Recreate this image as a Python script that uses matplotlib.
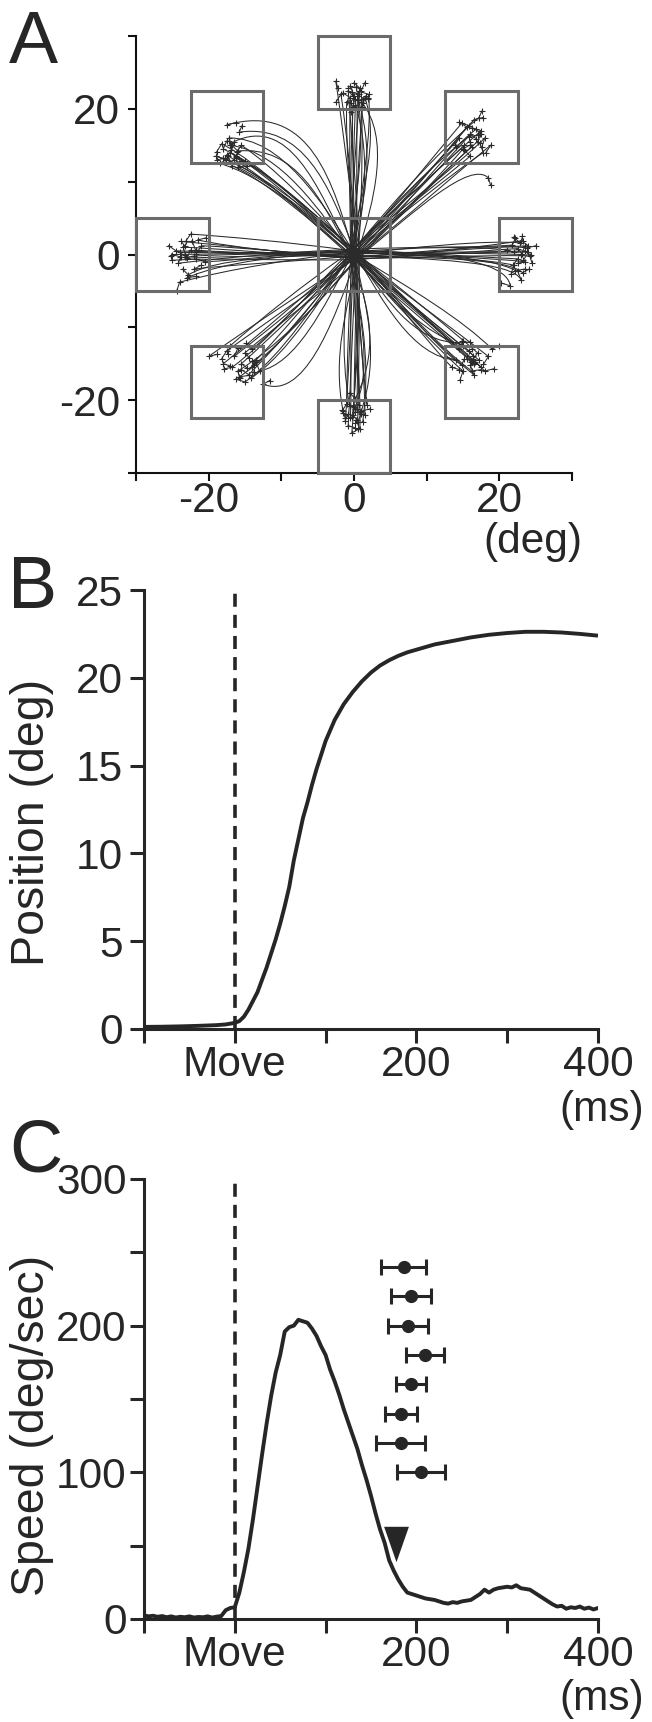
import matplotlib
matplotlib.use('Agg')
import matplotlib.pyplot as plt
from matplotlib.path import Path
from matplotlib.patches import PathPatch, Rectangle

plt.rcParams['font.family'] = ['Liberation Sans', 'DejaVu Sans']
plt.rcParams['lines.scale_dashes'] = False

# ---------------- data ----------------
# Panel A: target squares (centres, deg) and size
target_x = [0, 17.5, 25, 17.5, 0, -17.5, -25, -17.5, 0]
target_y = [25, 17.5, 0, -17.5, -25, -17.5, 0, 17.5, 0]
target_size = 10
tickA = [-30, -20, -10, 0, 10, 20, 30]
tickA_labels = ['', '-20', '', '0', '', '20', '']

# trajectories: (end_x, end_y, via_x, via_y) per direction
traj_up = [(0.5, 22.0, 0.3, 17), (-0.5, 21.5, -0.6, 17), (1.0, 22.5, 1.2, 18), (0.2, 20.5, 0, 16),
           (-1.0, 21.0, -1.2, 16), (1.5, 21.5, 3.5, 16), (1.0, 21.0, 5.0, 16), (2.0, 22.0, 2.5, 17),
           (-2.5, 23.8, -1.8, 19), (0.8, 22.8, 0.5, 18), (-0.3, 22.3, 2.5, 14), (0.0, 21.8, -0.5, 15),
           (-0.8, 22.5, -0.5, 18), (0.3, 23.0, 1.8, 15), (1.2, 20.8, 0.8, 16), (-1.8, 22.0, -1.0, 17),
           (0.6, 21.2, 3.0, 13), (-0.2, 20.2, -0.3, 16)]
traj_down = [(0.0, -21.0, 0, -17), (-0.5, -22.5, -0.3, -18), (0.5, -23.0, 0.6, -18), (-1.0, -20.5, -1.0, -16),
             (1.0, -21.5, 3.5, -14), (0.5, -20.0, 2.5, -15), (-0.3, -24.5, 0.2, -19), (1.5, -22.0, 1.5, -17),
             (-1.5, -21.5, -3.0, -14), (0.2, -19.8, 4.0, -12), (-0.8, -23.5, -0.5, -18), (0.8, -24.0, 1.0, -19),
             (-0.2, -22.0, 0.3, -17), (1.2, -23.0, 2.5, -13), (-1.2, -22.8, -0.8, -18), (0.4, -21.2, 0.5, -16),
             (-0.6, -20.8, -2.0, -13), (1.8, -20.6, 1.2, -16)]
traj_right = [(23.5, 0.5, 19, 0.3), (24.0, 1.2, 19, 1.0), (23.0, 0.0, 18, 0.2), (22.5, -0.6, 18, -0.4),
              (23.8, 0.9, 19, 1.5), (22.0, -1.5, 20, -0.8), (23.2, -2.5, 21, -0.5), (21.5, -4.3, 21, -0.6),
              (24.2, -0.2, 19, 0), (22.8, 1.6, 18, 2.0), (21.0, 0.6, 17, 1.2), (23.0, -3.5, 22, -1.0),
              (22.5, 0.8, 18, 0.6), (23.6, -1.0, 19, -0.5), (21.8, 1.3, 17, 0.9), (24.0, 0.3, 20, 0.5),
              (22.2, -2.2, 19, -0.4), (23.3, 1.9, 18, 1.2)]
traj_left = [(-24.0, 0.3, -19, 0.2), (-24.5, 0.5, -19, 0.4), (-23.0, -0.5, -18, -0.3), (-22.5, 2.8, -18, 2.5),
             (-21.5, 2.0, -17, 1.0), (-24.0, -3.8, -17, -2.0), (-22.0, -2.0, -18, -1.5), (-20.5, -1.0, -16, -0.8),
             (-23.5, 1.0, -18, 0.8), (-22.8, -2.8, -19, -0.5), (-25.0, 0.0, -20, 0), (-21.8, 0.6, -16, 0.2),
             (-23.8, 1.8, -18, 1.3), (-22.0, -0.2, -17, 0), (-24.2, -1.2, -19, -0.6), (-21.0, 1.2, -16, 1.0),
             (-23.0, -3.2, -18, -1.0), (-25.0, -0.8, -20, -0.4)]
traj_ur = [(16.0, 16.5, 12.5, 12.5), (15.5, 17.5, 12, 13), (17.0, 15.5, 13, 12), (14.5, 16.0, 11, 12),
           (16.5, 18.5, 12.5, 14), (18.0, 16.0, 14, 12), (15.0, 14.5, 12, 11), (17.5, 17.0, 13, 13),
           (18.5, 10.5, 16, 13), (16.0, 13.5, 13, 11), (14.8, 18.0, 11, 13.5), (17.8, 14.0, 14, 11.5),
           (16.8, 17.2, 12, 13.5), (15.2, 15.0, 11.5, 11.5), (17.2, 18.8, 12, 14.5), (18.8, 15.0, 14.5, 11.5),
           (15.8, 16.2, 11, 12.5), (16.2, 14.8, 12.8, 11.8)]
traj_ul = [(-17.0, 14.0, -12, 11.5), (-16.5, 13.0, -12, 10.5), (-18.0, 14.5, -13, 12), (-15.5, 15.0, -11, 12),
           (-17.5, 17.8, -6, 21), (-16.5, 15.5, -9, 19), (-18.5, 12.5, -13, 11), (-15.0, 12.8, -11, 10.5),
           (-17.2, 16.0, -10, 16), (-16.0, 14.2, -8, 15), (-19.0, 13.5, -13, 11.5), (-16.8, 12.2, -12, 10),
           (-16.2, 13.5, -11.5, 10.5), (-17.8, 13.2, -12.5, 11), (-15.8, 16.8, -7, 18), (-18.2, 15.2, -13, 12.5),
           (-16.0, 12.0, -11, 9.5), (-17.0, 15.0, -10, 14)]
traj_ll = [(-15.5, -15.0, -11, -11), (-14.5, -16.5, -10, -12), (-16.5, -14.0, -12, -10.5), (-13.5, -14.5, -10, -11),
           (-20.0, -14.0, -13, -9), (-17.0, -12.5, -13, -9), (-12.5, -17.8, -7, -20), (-15.0, -17.5, -10, -14),
           (-16.0, -16.0, -11, -13), (-14.0, -13.0, -10, -9.5), (-18.0, -15.0, -13, -11), (-13.0, -16.0, -8, -15),
           (-15.0, -13.5, -11, -10), (-16.8, -15.5, -12, -12), (-14.2, -17.0, -9, -13.5), (-17.5, -13.2, -13, -10),
           (-15.8, -16.8, -10, -13), (-13.8, -15.2, -9.5, -11.5)]
traj_lr = [(15.5, -14.0, 12, -11), (16.5, -15.0, 12.5, -11.5), (14.5, -13.0, 11, -10), (17.0, -13.5, 13, -10),
           (18.0, -16.0, 14, -12), (15.0, -16.0, 11, -12.5), (19.0, -13.0, 15, -9), (14.0, -14.5, 8, -14),
           (16.0, -12.0, 9, -13), (17.5, -15.5, 13.5, -12), (13.5, -15.5, 10, -12), (16.5, -16.5, 12, -13),
           (15.8, -13.2, 11.5, -10), (17.2, -14.5, 13, -11), (14.8, -15.2, 10.5, -12), (18.5, -14.0, 14, -10.5),
           (16.2, -16.0, 11.5, -12.5), (15.0, -12.5, 10, -11)]
start_dx = [0.3, -0.4, 0.6, -0.2, 0.1, -0.6, 0.4, -0.1, 0.5, -0.5, 0.2, -0.3, 0.7, -0.7, 0.0, 0.35, -0.25, 0.15]
start_dy = [0.2, -0.3, 0.1, 0.5, -0.4, 0.3, -0.2, 0.6, -0.5, 0.0, 0.4, -0.1, -0.6, 0.25, 0.7, -0.35, 0.45, -0.7]
tail_dx = [0.8, -1.0, 0.5, -0.6, 1.2, -0.4, 0.9, -1.3, 0.3, -0.8, 1.0, -0.5, 0.6, -1.1, 0.4, -0.7, 1.3, -0.2]
tail_dy = [-0.6, 0.7, 1.1, -0.9, 0.3, -1.2, 0.5, 0.4, -1.0, 0.8, -0.3, 1.3, -0.7, -0.2, 0.9, -1.1, 0.2, 0.6]

# Panel B: eye position (deg) vs time (ms)
pos_t = [-100, -80, -60, -40, -20, -10, 0, 5, 10, 15, 20, 25, 30, 35, 40, 45, 50, 55, 60, 65, 70,
         75, 80, 85, 90, 95, 100, 110, 120, 130, 140, 150, 160, 170, 180, 190, 200, 220, 240, 260,
         280, 300, 320, 340, 360, 380, 400]
pos_v = [0.12, 0.13, 0.15, 0.18, 0.22, 0.26, 0.35, 0.45, 0.7, 1.1, 1.6, 2.1, 2.8, 3.5, 4.3, 5.1,
         6.0, 7.0, 8.1, 9.6, 10.8, 12.0, 12.9, 13.9, 14.8, 15.6, 16.4, 17.6, 18.5, 19.2, 19.8, 20.3,
         20.7, 21.0, 21.25, 21.45, 21.6, 21.9, 22.1, 22.3, 22.45, 22.55, 22.62, 22.62, 22.58, 22.5, 22.4]
xtickB = [-100, 0, 100, 200, 300, 400]
xtickB_labels = ['', 'Move', '', '200', '', '400']
move_t = 0

# Panel C: eye speed (deg/s) vs time (ms)
speed_t = [-100, -95, -90, -85, -80, -75, -70, -65, -60, -55, -50, -45, -40, -35, -30, -25, -20, -15,
           -10, -5, 0, 5, 10, 15, 20, 25, 30, 35, 40, 45, 50, 55, 60, 65, 70, 75, 80, 85, 90, 95, 100,
           105, 110, 115, 120, 125, 130, 135, 140, 145, 150, 155, 160, 165, 170, 175, 180, 185, 190,
           195, 200, 205, 210, 215, 220, 225, 230, 235, 240, 245, 250, 255, 260, 265, 270, 275, 280,
           285, 290, 295, 300, 305, 310, 315, 320, 325, 330, 335, 340, 345, 350, 355, 360, 365, 370,
           375, 380, 385, 390, 395, 400]
speed_v = [2.5, 1.8, 2.2, 1.5, 2.0, 1.2, 1.8, 1.0, 1.5, 1.2, 1.8, 1.0, 1.4, 1.2, 1.8, 1.0, 1.6, 2.0,
           6.0, 7.5, 8.0, 18, 32, 48, 68, 90, 112, 133, 152, 168, 180, 196, 199, 200, 204, 203, 202,
           198, 193, 186, 180, 170, 162, 153, 143, 134, 125, 116, 105, 95, 84, 72, 61, 52, 40, 33, 27,
           22, 18, 17, 16, 15, 14, 13.5, 13, 12, 11, 10.5, 11.5, 11, 12, 12.5, 13, 15, 17, 20, 18, 20,
           21, 21.5, 22, 21.5, 23, 21, 20.5, 20, 18, 16, 14, 12, 10, 8.5, 9, 7, 8, 7.5, 8.5, 7, 7.8,
           6.5, 7.5]
eb_x = [186, 194, 191, 209, 194, 183, 183, 205]
eb_y = [240, 220, 200, 180, 160, 140, 120, 100]
eb_err = [25, 22, 22, 21, 17, 18, 27, 26]
arrow_t, arrow_v = 177, 51
ytickC = [0, 50, 100, 150, 200, 250, 300]
ytickC_labels = ['0', '', '100', '', '200', '', '300']

# ---------------- figure ----------------
W, H = 652, 1722
fig = plt.figure(figsize=(W / 100, H / 100), dpi=100)
ink = '#262626'
FS = 30.5
FSY = 33.5


def frac(l, t, r, b):
    return [l / W, 1 - b / H, (r - l) / W, (b - t) / H]


def fx(px):
    return px / W


def fy(py):
    return 1 - py / H


# ---------- Panel A ----------
axA = fig.add_axes(frac(136, 36, 572, 473))
axA.set_xlim(-30, 30)
axA.set_ylim(-30, 30)
for s in ['top', 'right']:
    axA.spines[s].set_visible(False)
for s in ['left', 'bottom']:
    axA.spines[s].set_linewidth(1.5)
    axA.spines[s].set_color('#111111')

tr_col = '#2b2b2b'
for group in [traj_up, traj_down, traj_right, traj_left, traj_ur, traj_ul, traj_ll, traj_lr]:
    for i, (ex, ey, cx, cy) in enumerate(group):
        sx, sy = start_dx[i], start_dy[i]
        verts = [(sx, sy), (0.5 * cx + sx, 0.5 * cy + sy), (cx, cy), (ex, ey)]
        codes = [Path.MOVETO, Path.CURVE4, Path.CURVE4, Path.CURVE4]
        axA.add_patch(PathPatch(Path(verts, codes), fill=False, lw=0.75,
                                edgecolor=tr_col, zorder=2))
        tx, ty = ex + tail_dx[i], ey + tail_dy[i]
        axA.plot([ex, tx], [ey, ty], color=tr_col, lw=0.75, marker='+', ms=5, mew=0.8, zorder=2)

for cx, cy in zip(target_x, target_y):
    axA.add_patch(Rectangle((cx - target_size / 2, cy - target_size / 2), target_size, target_size,
                            fill=False, lw=2.2, edgecolor='#6b6b6b', zorder=3, clip_on=False))

axA.set_xticks(tickA)
axA.set_xticklabels(tickA_labels)
axA.set_yticks(tickA)
axA.set_yticklabels(tickA_labels)
axA.tick_params(axis='both', direction='out', length=5.5, width=1.5, colors='#111111',
                labelsize=FS, labelcolor=ink)
axA.tick_params(axis='x', pad=0.5)
axA.tick_params(axis='y', pad=6)

# ---------- Panel B ----------
axB = fig.add_axes(frac(144, 590, 598, 1029))
axB.plot(pos_t, pos_v, color=ink, lw=2.8, solid_capstyle='butt')
axB.plot([move_t, move_t], [0, 25], color=ink, lw=2.6, ls=(0, (9.4, 5.8)))
axB.set_xlim(-100, 400)
axB.set_ylim(0, 25)
axB.set_xticks(xtickB)
axB.set_xticklabels(xtickB_labels)
axB.set_yticks([0, 5, 10, 15, 20, 25])
for s in ['top', 'right']:
    axB.spines[s].set_visible(False)
for s in ['left', 'bottom']:
    axB.spines[s].set_linewidth(2.2)
    axB.spines[s].set_color(ink)
axB.tick_params(axis='both', direction='out', length=10, width=2.2, colors=ink, labelsize=FS)
axB.tick_params(axis='x', pad=1.5)
axB.tick_params(axis='y', pad=5)

# ---------- Panel C ----------
axC = fig.add_axes(frac(144, 1179, 598, 1619))
axC.plot(speed_t, speed_v, color=ink, lw=2.8)
axC.plot([move_t, move_t], [0, 300], color=ink, lw=2.6, ls=(0, (9.4, 5.8)))
axC.errorbar(eb_x, eb_y, xerr=eb_err, fmt='o', color=ink, ms=8.5, capsize=5.5,
             elinewidth=2.2, capthick=2.2)
axC.plot([arrow_t], [arrow_v], marker=[(-0.7, 1), (0.7, 1), (0, -1)], ms=25.5, color=ink,
         markeredgewidth=0)
axC.set_xlim(-100, 400)
axC.set_ylim(0, 300)
axC.set_xticks(xtickB)
axC.set_xticklabels(xtickB_labels)
axC.set_yticks(ytickC)
axC.set_yticklabels(ytickC_labels)
for s in ['top', 'right']:
    axC.spines[s].set_visible(False)
for s in ['left', 'bottom']:
    axC.spines[s].set_linewidth(2.2)
    axC.spines[s].set_color(ink)
axC.tick_params(axis='both', direction='out', length=10, width=2.2, colors=ink, labelsize=FS)
axC.tick_params(axis='x', pad=1.5)
axC.tick_params(axis='y', pad=2.5)

# ---------- texts ----------
fig.text(fx(9), fy(63), 'A', fontsize=53, color=ink, ha='left', va='baseline')
fig.text(fx(8), fy(608), 'B', fontsize=53, color=ink, ha='left', va='baseline')
fig.text(fx(9), fy(1171), 'C', fontsize=53, color=ink, ha='left', va='baseline')
fig.text(fx(582), fy(553), '(deg)', fontsize=FS, color=ink, ha='right', va='baseline')
fig.text(fx(644), fy(1121), '(ms)', fontsize=FS, color=ink, ha='right', va='baseline')
fig.text(fx(644), fy(1710), '(ms)', fontsize=FS, color=ink, ha='right', va='baseline')
fig.text(fx(32), fy(822), 'Position (deg)', fontsize=FSY, color=ink, rotation=90,
         ha='center', va='center')
fig.text(fx(32), fy(1425), 'Speed (deg/sec)', fontsize=FSY, color=ink, rotation=90,
         ha='center', va='center')

fig.savefig('out.png', dpi=100, facecolor='white')
